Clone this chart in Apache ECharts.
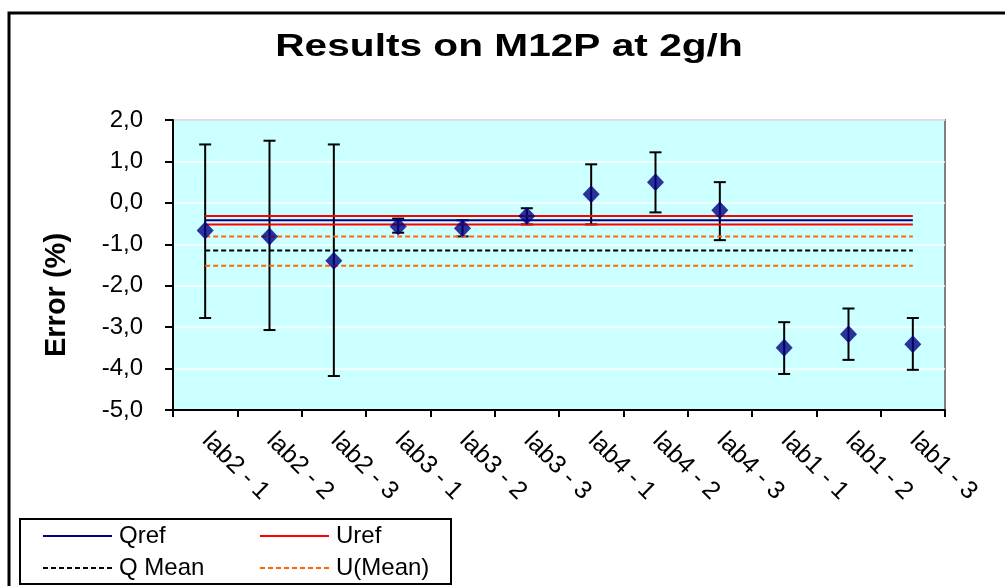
<!DOCTYPE html>
<html>
<head>
<meta charset="utf-8">
<title>Results on M12P at 2g/h</title>
<script src="https://cdn.jsdelivr.net/npm/echarts@6/dist/echarts.min.js"></script>
<style>
  html, body { margin: 0; padding: 0; background: #ffffff; }
  #chart { width: 1005px; height: 586px; }
</style>
</head>
<body>
<div id="chart"></div>
<script>
// Laboratories measured on the M12P meter at 2 g/h
const categories = ['lab2 - 1', 'lab2 - 2', 'lab2 - 3', 'lab3 - 1', 'lab3 - 2', 'lab3 - 3',
                    'lab4 - 1', 'lab4 - 2', 'lab4 - 3', 'lab1 - 1', 'lab1 - 2', 'lab1 - 3'];
// Measured error (%) per laboratory run
const errorValues = [-0.67, -0.81, -1.40, -0.57, -0.61, -0.32, 0.21, 0.50, -0.18, -3.50, -3.17, -3.41];
// Lower and upper end of each uncertainty bar (%)
const errorLow  = [-2.78, -3.07, -4.18, -0.72, -0.81, -0.52, -0.52, -0.23, -0.90, -4.13, -3.79, -4.03];
const errorHigh = [ 1.41,  1.50,  1.41, -0.38, -0.42, -0.13,  0.93,  1.22,  0.50, -2.88, -2.55, -2.78];
// Reference value and its uncertainty band
const qref = -0.42;
const urefBounds = [-0.32, -0.52];
// Mean of all laboratories and its uncertainty band
const qMean = -1.15;
const uMeanBounds = [-0.81, -1.52];
// Value axis range
const yRange = { min: -5, max: 2, step: 1 };

const FONT = '"Liberation Sans", Arial, sans-serif';
const flat = v => categories.map(() => v);

const chart = echarts.init(document.getElementById('chart'), null, { renderer: 'canvas' });

const lineSeries = (name, value, color, dashed, z) => ({
  name: name,
  type: 'line',
  data: flat(value),
  symbol: 'none',
  showSymbol: false,
  silent: true,
  z: z,
  lineStyle: { color: color, width: 2, type: dashed ? [5, 3] : 'solid' },
  itemStyle: { color: color }
});

const legendBase = {
  left: 42,
  orient: 'horizontal',
  padding: 0,
  itemWidth: 69,
  itemHeight: 14,
  itemGap: 5,
  selectedMode: false,
  // only the line sample is shown for each entry
  itemStyle: { opacity: 0 },
  textStyle: {
    fontFamily: FONT, fontSize: 24, color: '#000',
    width: 135, overflow: 'none', padding: [0, 0, 0, 2], lineHeight: 26
  }
};

chart.setOption({
  animation: false,
  backgroundColor: '#ffffff',
  grid: {
    left: 173, right: 60, top: 120, bottom: 176,
    show: true,
    backgroundColor: '#CCFFFF',
    borderColor: '#808080',
    borderWidth: 2,
    containLabel: false,
    outerBoundsMode: 'none'
  },
  legend: [
    Object.assign({}, legendBase, { top: 523, data: ['Qref', 'Uref'] }),
    Object.assign({}, legendBase, { top: 555, data: ['Q Mean', 'U(Mean)'] })
  ],
  xAxis: {
    type: 'category',
    data: categories,
    boundaryGap: true,
    axisLine: { onZero: false, lineStyle: { color: '#000', width: 2 } },
    axisTick: { show: true, inside: false, length: 7, interval: 0, lineStyle: { color: '#000', width: 2 } },
    splitLine: { show: false },
    axisLabel: {
      interval: 0,
      rotate: -45,
      align: 'left',
      verticalAlign: 'top',
      margin: 8,
      padding: [0, 0, 0, 14],
      fontFamily: FONT,
      fontSize: 25,
      color: '#000'
    }
  },
  yAxis: {
    type: 'value',
    min: yRange.min,
    max: yRange.max,
    interval: yRange.step,
    axisLine: { show: true, lineStyle: { color: '#000', width: 2 } },
    axisTick: { show: true, inside: false, length: 8, lineStyle: { color: '#000', width: 2 } },
    splitLine: { show: true, lineStyle: { color: '#ffffff', width: 1.5 } },
    axisLabel: {
      margin: 30,
      fontFamily: FONT,
      fontSize: 24,
      color: '#000',
      formatter: v => v.toFixed(1).replace('.', ',')
    }
  },
  series: [
    {
      name: 'error bars',
      type: 'custom',
      silent: true,
      z: 2,
      data: categories.map((c, i) => [i, errorLow[i], errorHigh[i]]),
      encode: { x: 0, y: [1, 2] },
      renderItem: function (params, api) {
        const idx = api.value(0);
        const lo = api.coord([idx, api.value(1)]);
        const hi = api.coord([idx, api.value(2)]);
        const cap = 6;
        const style = { stroke: '#000000', lineWidth: 2 };
        return {
          type: 'group',
          children: [
            { type: 'line', shape: { x1: lo[0], y1: lo[1], x2: hi[0], y2: hi[1] }, style: style },
            { type: 'line', shape: { x1: lo[0] - cap, y1: lo[1], x2: lo[0] + cap, y2: lo[1] }, style: style },
            { type: 'line', shape: { x1: hi[0] - cap, y1: hi[1], x2: hi[0] + cap, y2: hi[1] }, style: style }
          ]
        };
      }
    },
    lineSeries('Qref', qref, '#000080', false, 3),
    lineSeries('Uref', urefBounds[0], '#FF0000', false, 3),
    lineSeries('Uref', urefBounds[1], '#FF0000', false, 3),
    lineSeries('Q Mean', qMean, '#000000', true, 3),
    lineSeries('U(Mean)', uMeanBounds[0], '#FF6600', true, 3),
    lineSeries('U(Mean)', uMeanBounds[1], '#FF6600', true, 3),
    {
      name: 'Error',
      type: 'scatter',
      data: errorValues,
      symbol: 'diamond',
      symbolSize: [17, 18],
      z: 4,
      itemStyle: { color: '#000080' }
    }
  ],
  graphic: [
    {
      type: 'rect',
      z: 0,
      silent: true,
      shape: { x: 9, y: 13, width: 1100, height: 700 },
      style: { fill: 'transparent', stroke: '#000000', lineWidth: 3 }
    },
    {
      type: 'rect',
      z: 0,
      silent: true,
      shape: { x: 20, y: 519, width: 431, height: 65 },
      style: { fill: 'transparent', stroke: '#000000', lineWidth: 2 }
    },
    {
      type: 'text',
      x: 509, y: 47,
      scaleX: 1.27,
      silent: true,
      style: {
        text: 'Results on M12P at 2g/h',
        x: 0, y: 0,
        align: 'center', verticalAlign: 'middle',
        fontFamily: FONT, fontWeight: 'bold', fontSize: 32,
        fill: '#000000'
      }
    },
    {
      type: 'text',
      x: 57, y: 295,
      rotation: Math.PI / 2,
      silent: true,
      style: {
        text: 'Error (%)',
        x: 0, y: 0,
        align: 'center', verticalAlign: 'middle',
        fontFamily: FONT, fontWeight: 'bold', fontSize: 29,
        fill: '#000000'
      }
    }
  ]
});
</script>
</body>
</html>
